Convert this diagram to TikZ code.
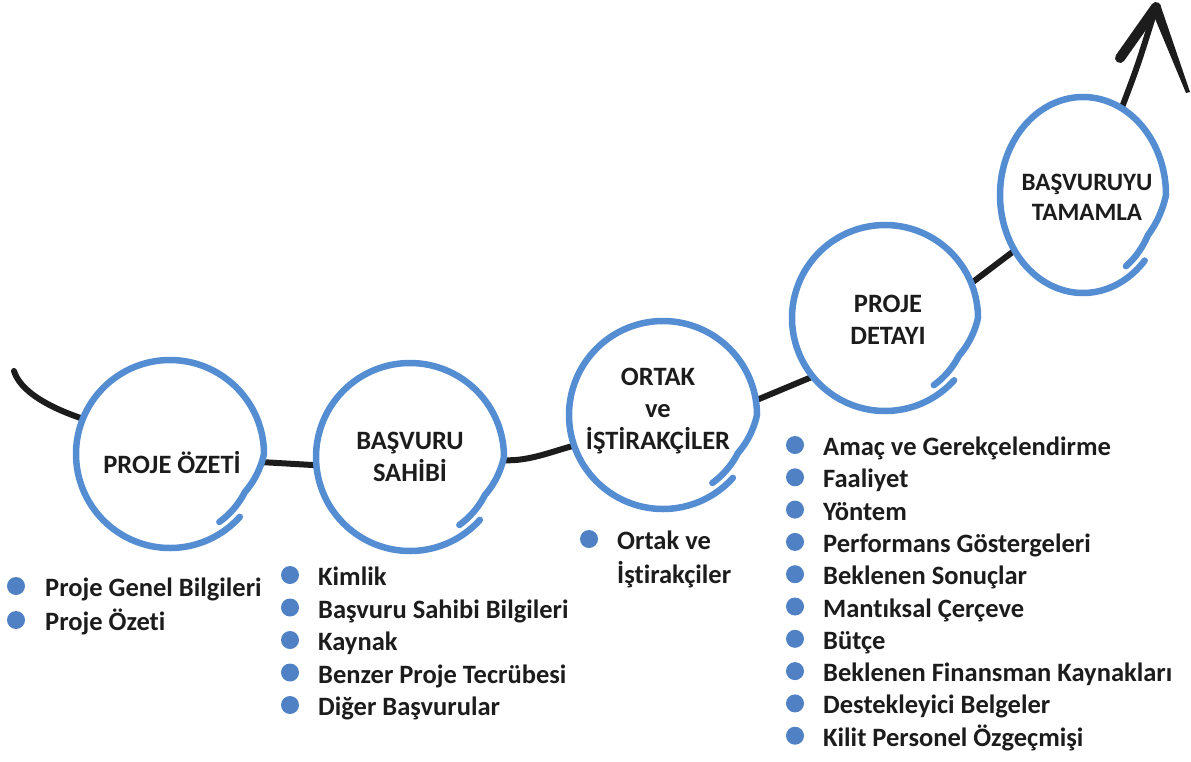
\documentclass[tikz,border=0pt]{standalone}
\usepackage{fontspec}
\setmainfont{Carlito}[Ligatures=NoCommon]
\usetikzlibrary{shapes.geometric}
\definecolor{ringblue}{RGB}{84,141,210}
\definecolor{dotblue}{RGB}{79,129,196}
\definecolor{ink}{RGB}{28,28,28}
\newcommand\enso[3]{%
  \draw[ring, shift={(#1.center)}] plot[domain=0:372, samples=180, smooth, variable=\a]
   ({(#2-10*min(1,max(0,(\a-318)/27)))*cos(-42-\a)},
    {-(#3-10*min(1,max(0,(\a-318)/27)))*sin(-42-\a)});}
\begin{document}
\begin{tikzpicture}[x=1pt,y=-1pt,
  stage/.style={circle, minimum size=#1, inner sep=0pt, draw=none},
  stage/.default=188pt,
  title/.style={align=center, inner sep=0pt, text=ink, font=\bfseries\fontsize{26.5}{32}\selectfont},
  conn/.style={draw=ink, line width=6pt, line cap=butt},
  itemtext/.style={anchor=base west, inner sep=0pt, text=ink, font=\bfseries\fontsize{26.5}{30}\selectfont},
  dot/.style={circle, fill=dotblue, minimum size=18pt, inner sep=0pt},
  ring/.style={draw=ringblue, line width=6.5pt, line cap=round, line join=round}
]
\useasboundingbox (0,0) rectangle (1191,761);

% stage circles (geometry only)
\node[stage] (c1) at (170,454) {};
\node[stage] (c2) at (410,457) {};
\node[stage] (c3) at (663,415) {};
\node[stage=186pt] (c4) at (885,318) {};
\node[ellipse, minimum width=166pt, minimum height=196pt, inner sep=0pt] (c5) at (1083,195) {};

% black path
\coordinate (s) at (14,371);
\coordinate (tip) at (1156,7);
\draw[conn, line cap=round] (s) .. controls (20,390) and (45,406) .. (c1.158);
\draw[conn] (c1.-5) -- (c2.185);
\draw[conn] (c2.-2) .. controls (530,461) and (550,452) .. (c3.199);
\draw[conn] (c3.9) -- (c4.219);
\draw[conn] (c4.22) -- (c5.219);
\draw[conn] (c5.66) .. controls (1138,65) .. (tip);
\draw[draw=ink, line width=10pt, line cap=round] (1120,58) -- (tip);
\fill[ink] (1151,9) -- (1160,4) -- (1190,92) -- (1186,93) -- cycle;

% rings
\enso{c1}{94}{94}
\enso{c2}{94}{94}
\enso{c3}{94}{94}
\enso{c4}{93}{93}
\enso{c5}{83}{98}

% titles
\node[title] (t1) at (172,462) {PROJE ÖZETİ};
\node[title] (t2) at (410,457) {BAŞVURU\\SAHİBİ};
\node[title] (t3) at (658,411) {ORTAK\\ve\\İŞTİRAKÇİLER};
\node[title] (t4) at (888,320) {PROJE\\DETAYI};
\node[title, font=\bfseries\fontsize{25}{30}\selectfont] (t5) at (1087,197) {BAŞVURUYU\\TAMAMLA};

% list 1
\foreach \txt [count=\i] in {Proje Genel Bilgileri, Proje Özeti} {
  \node[dot] (pa\i) at (16,{586+34*(\i-1)}) {};
  \node[itemtext] (la\i) at (45,{596.5+34*(\i-1)}) {\txt};
}
% list 2
\foreach \txt [count=\i] in {Kimlik, Başvuru Sahibi Bilgileri, Kaynak, Benzer Proje Tecrübesi, Diğer Başvurular} {
  \node[dot] (pb\i) at (290,{575+32.5*(\i-1)}) {};
  \node[itemtext] (lb\i) at (318,{585.5+32.5*(\i-1)}) {\txt};
}
% list 3
\node[dot] (pc1) at (589,539) {};
\node[itemtext] (lc1) at (617,549.5) {Ortak ve};
\node[itemtext] (lc2) at (617,583.5) {İştirakçiler};
% list 4
\foreach \txt [count=\i] in {Amaç ve Gerekçelendirme, Faaliyet, Yöntem, Performans Göstergeleri, Beklenen Sonuçlar, Mantıksal Çerçeve, Bütçe, Beklenen Finansman Kaynakları, Destekleyici Belgeler, Kilit Personel Özgeçmişi} {
  \node[dot] (pd\i) at (795,{445+32.3*(\i-1)}) {};
  \node[itemtext] (ld\i) at (823,{455.5+32.3*(\i-1)}) {\txt};
}
\end{tikzpicture}
\end{document}
